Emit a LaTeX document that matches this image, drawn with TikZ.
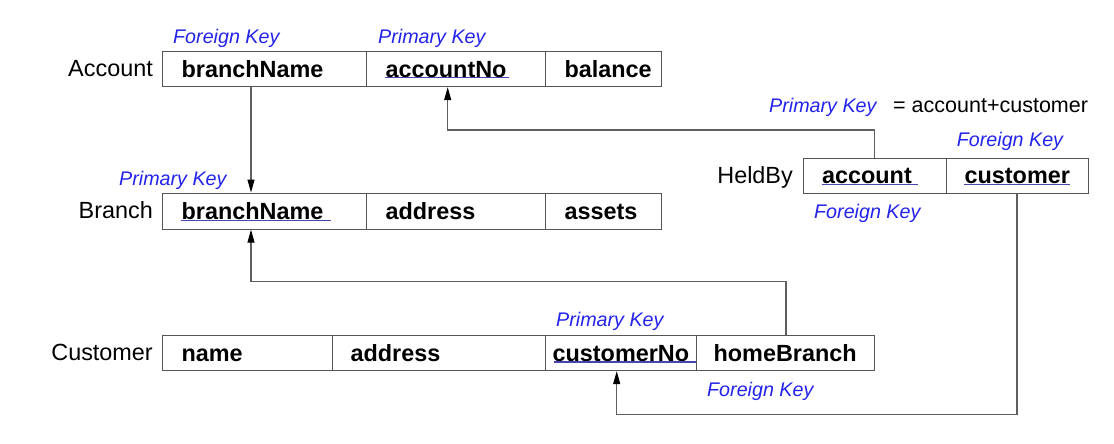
\documentclass[tikz,border=0pt]{standalone}
\usepackage{fontspec}
\setmainfont{Liberation Sans}
\usetikzlibrary{arrows.meta,calc}
\definecolor{keyblue}{RGB}{35,35,235}
\definecolor{ulblue}{RGB}{70,70,175}
\definecolor{boxgray}{RGB}{85,85,85}
\definecolor{linegray}{RGB}{95,95,95}
\newcommand\cellfnt{\fontsize{23.4}{28}\selectfont\bfseries}
\newcommand\namefnt{\fontsize{23.4}{28}\selectfont}
\newcommand\keyfnt{\fontsize{19.7}{24}\selectfont\itshape}
\begin{document}
\begin{tikzpicture}[x=1pt,y=-1pt,
 cell/.style={draw=boxgray, line width=1.2pt, rectangle, anchor=north west, minimum height=35pt, inner ysep=8.5pt, text height=16.5pt, text depth=0pt, align=left, font=\cellfnt},
 tname/.style={anchor=base east, inner sep=0pt, font=\namefnt},
 keylbl/.style={anchor=base west, inner sep=0pt, text=keyblue, font=\keyfnt},
 conn/.style={draw=linegray, line width=1.1pt},
 arr/.style={conn, -{Triangle[length=13pt,width=7pt,color=black]}},
 uline/.style={draw=ulblue, line width=1.5pt}]
\useasboundingbox[fill=white] (0,0) rectangle (1114,444);

% Account
\node[tname] (nA) at (153,76.5) {Account};
\node[cell, inner xsep=19pt, text width=166pt] (a1) at (162,51) {branchName};
\node[cell, inner xsep=19pt, text width=141pt] (a2) at (366,51) {accountNo};
\node[cell, inner xsep=19pt, text width=78pt] (a3) at (545,51) {balance};

% Branch
\node[tname] (nB) at (153,218.5) {Branch};
\node[cell, minimum height=36pt, inner xsep=19pt, text width=166pt] (b1) at (162,192.5) {branchName};
\node[cell, minimum height=36pt, inner xsep=19pt, text width=141pt] (b2) at (366,192.5) {address};
\node[cell, minimum height=36pt, inner xsep=19pt, text width=78pt] (b3) at (545,192.5) {assets};

% Customer
\node[tname] (nC) at (153,360.7) {Customer};
\node[cell, inner xsep=19pt, text width=132pt] (c1) at (162,335) {name};
\node[cell, inner xsep=18pt, text width=177pt] (c2) at (332,335) {address};
\node[cell, inner xsep=7pt, text width=137pt] (c3) at (545,335) {customerNo};
\node[cell, inner xsep=17pt, text width=144pt] (c4) at (696,335) {homeBranch};

% HeldBy
\node[tname] (nH) at (793,183) {HeldBy};
\node[cell, inner xsep=19pt, text width=105.5pt] (h1) at (802.5,157.5) {account};
\node[cell, inner xsep=18pt, text width=106pt] (h2) at (946,157.5) {customer};

% underlines of key fields
\draw[uline] (385,77.5) -- (509,77.5);
\draw[uline] (181,220.7) -- (331,220.7);
\draw[uline] (821.7,184.3) -- (918,184.3);
\draw[uline] (964,184.3) -- (1070,184.3);
\draw[uline] (554,362) -- (696,362);

% key labels
\node[keylbl] (fkA) at (173,43.5) {Foreign Key};
\node[keylbl] (pkA) at (378,43.5) {Primary Key};
\node[keylbl] (pkH) at (769,112) {Primary Key};
\node[anchor=base west, inner sep=0pt, font=\fontsize{21.5}{26}\selectfont] (eqH) at (893,112) {= account+customer};
\node[keylbl] (fkH2) at (956.7,146.7) {Foreign Key};
\node[keylbl] (fkH1) at (814,218) {Foreign Key};
\node[keylbl] (pkB) at (119,185) {Primary Key};
\node[keylbl] (pkC) at (556,326) {Primary Key};
\node[keylbl] (fkC) at (707,396.7) {Foreign Key};

% connectors
\coordinate (x1) at (251,0);
\draw[arr] (a1.south -| x1) -- (b1.north -| x1);
\coordinate (k2a) at (874.7,130);
\coordinate (k2b) at (447.7,130);
\draw[arr] (h1.north -| k2a) -- (k2a) -- (k2b) -- (a2.south -| k2b);
\coordinate (k3a) at (786,281.5);
\coordinate (k3b) at (251,281.5);
\draw[arr] (c4.north -| k3a) -- (k3a) -- (k3b) -- (b1.south -| k3b);
\coordinate (k4a) at (1017,414.3);
\coordinate (k4b) at (616.7,414.3);
\draw[arr] (h2.south -| k4a) -- (k4a) -- (k4b) -- (c3.south -| k4b);
\end{tikzpicture}
\end{document}
